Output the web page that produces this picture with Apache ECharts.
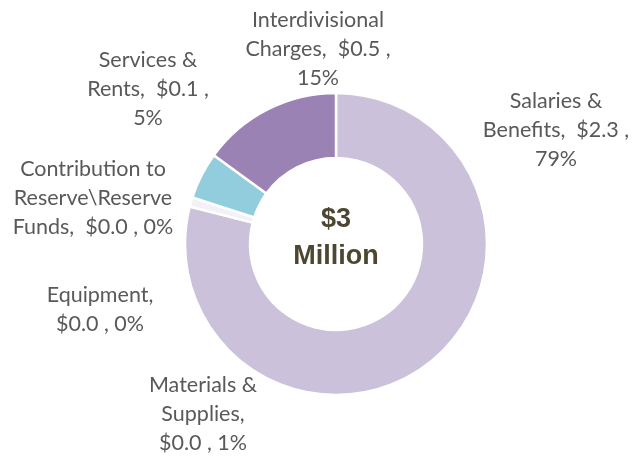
<!DOCTYPE html>
<html>
<head>
<meta charset="utf-8">
<script src="https://cdn.jsdelivr.net/npm/echarts@6/dist/echarts.min.js"></script>
<style>
html,body{margin:0;padding:0;background:#fff;}
#chart{width:633px;height:458px;}
</style>
</head>
<body>
<div id="chart"></div>
<script>
// Data (clockwise from 12 o'clock)
var categories = ['Salaries & Benefits', 'Materials & Supplies', 'Equipment', 'Contribution to Reserve\\Reserve Funds', 'Services & Rents', 'Interdivisional Charges'];
var amounts = [2.3, 0.0, 0.0, 0.0, 0.1, 0.5];   // $ million
var percents = [79, 1, 0, 0, 5, 15];            // share of total
var labelTexts = [
  'Salaries &\nBenefits,  $2.3 ,\n79%',
  'Materials &\nSupplies,\n$0.0 , 1%',
  'Equipment,\n$0.0 , 0%',
  'Contribution to\nReserve\\Reserve\nFunds,  $0.0 , 0%',
  'Services &\nRents,  $0.1 ,\n5%',
  'Interdivisional\nCharges,  $0.5 ,\n15%'
];

// Styling / layout (kept separate from data)
var colors = ['#CBC1DB', '#F3F0F7', '#DCD4E6', '#B9E0EA', '#92CDDD', '#9A82B4'];
var labelPos = [[556, 130], [203, 414], [100, 310], [93, 198], [148, 89], [318, 49]];

var total = amounts.reduce(function(a, b){ return a + b; }, 0);

var chart = echarts.init(document.getElementById('chart'));
chart.setOption({
  animation: false,
  backgroundColor: '#ffffff',
  series: [{
    type: 'pie',
    center: [336, 244],
    radius: [86, 151],
    startAngle: 90,
    clockwise: true,
    avoidLabelOverlap: false,
    stillShowZeroSum: true,
    minShowLabelAngle: 0,
    itemStyle: { borderColor: '#ffffff', borderWidth: 2.5 },
    emphasis: { disabled: true },
    label: {
      show: true,
      position: 'outside',
      formatter: function(p){ return labelTexts[p.dataIndex]; },
      fontFamily: 'Lato',
      fontSize: 21.5,
      lineHeight: 29,
      color: '#595959',
      align: 'center'
    },
    labelLine: { show: false },
    labelLayout: function(params){
      var pos = labelPos[params.dataIndex];
      return { x: pos[0], y: pos[1], align: 'center', verticalAlign: 'middle' };
    },
    data: categories.map(function(c, i){
      return { name: c, value: percents[i], itemStyle: { color: colors[i] } };
    })
  }],
  graphic: [{
    type: 'text',
    x: 336,
    y: 238,
    style: {
      text: '$' + Math.round(total) + '\nMillion',
      align: 'center',
      verticalAlign: 'middle',
      font: 'bold 27px "Liberation Sans", Arial, sans-serif',
      lineHeight: 37,
      fill: '#4D4731'
    }
  }]
});
</script>
</body>
</html>
